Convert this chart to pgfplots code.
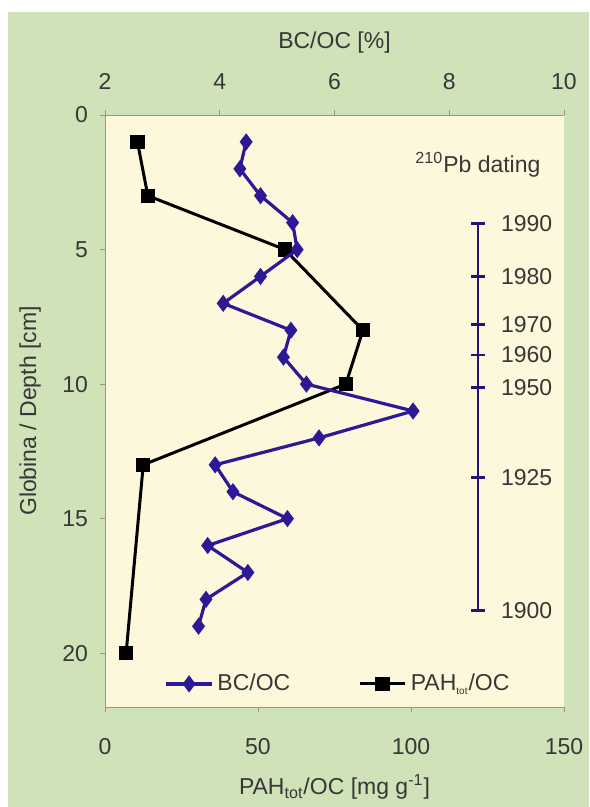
\documentclass[border=0pt]{standalone}
\usepackage{pgfplots}
\pgfplotsset{compat=1.18}
\usepackage{fontspec}
\setmainfont{Liberation Sans}

\definecolor{bggreen}{RGB}{207,226,184}
\definecolor{cream}{RGB}{253,247,219}
\definecolor{bcblue}{RGB}{45,25,150}
\definecolor{txtgray}{RGB}{55,55,55}
\definecolor{axgray}{RGB}{150,150,130}

\begin{document}
\fontsize{11.5}{13}\selectfont
\begin{tikzpicture}[x=0.5pt,y=0.5pt]
% white frame and green panel (589 x 807 px grid)
\useasboundingbox (0,0) rectangle (589,807);
\fill[white] (0,0) rectangle (589,807);
\fill[bggreen] (8,0) rectangle (589,795);

\pgfplotsset{
  common/.style={
    at={(52.5pt,50pt)}, anchor=south west,
    scale only axis, width=229.5pt, height=296pt,
    ymin=0, ymax=22, y dir=reverse,
    tick align=outside, major tick length=2.5pt,
    tick style={axgray, thin},
    axis line style={axgray, thin},
    /pgf/number format/assume math mode=true,
    tick label style={text=txtgray, font=\fontsize{11.5}{13}\selectfont},
    label style={text=txtgray, font=\fontsize{11.5}{13}\selectfont},
  }
}

% PAH on the bottom axis, depth on the left
\begin{axis}[common,
    axis background/.style={fill=cream},
    axis x line*=bottom, axis y line*=left,
    xmin=0, xmax=150,
    xtick={0,50,100,150}, ytick={0,5,10,15,20},
    xticklabel style={yshift=-9pt},
    yticklabel style={xshift=-2pt},
    xlabel={PAH\textsubscript{tot}/OC [mg g\textsuperscript{-1}]},
    xlabel style={at={(axis description cs:0.5,-0.135)}, anchor=center},
    ylabel={Globina / Depth [cm]},
    ylabel style={at={(axis description cs:-0.163,0.5)}, anchor=center},
]
\addplot[black, line width=1.5pt, mark=square*, mark size=2.8pt] coordinates {
  (10.6,1) (14.0,3) (58.8,5) (84.3,8) (78.7,10) (12.5,13) (6.9,20)
};
\end{axis}

% BC/OC on the top axis, plus the 210Pb dating scale
\begin{axis}[common,
    axis x line*=top, axis y line=none,
    xmin=2, xmax=10,
    xtick={2,4,6,8,10},
    xticklabel style={yshift=6pt},
    xlabel={BC/OC [\%]},
    xlabel style={at={(axis description cs:0.5,1.122)}, anchor=center},
    legend columns=2,
    legend style={at={(0.51,0.039)}, anchor=center, draw=none, fill=none,
      text=txtgray, font=\fontsize{11.5}{13}\selectfont,
      /tikz/every even column/.append style={column sep=32pt}},
    legend image code/.code={
      \draw[mark repeat=2, mark phase=2] plot coordinates {(0cm,0cm) (0.4cm,0cm) (0.8cm,0cm)};
    },
]
\addplot[bcblue, line width=1.6pt, mark=diamond*, mark size=3pt] coordinates {
  (4.46,1) (4.35,2) (4.71,3) (5.27,4) (5.35,5) (4.71,6) (4.06,7)
  (5.24,8) (5.11,9) (5.51,10) (7.37,11) (5.73,12) (3.92,13) (4.23,14)
  (5.18,15) (3.79,16) (4.49,17) (3.76,18) (3.63,19)
};
\addlegendentry{BC/OC}
\addlegendimage{black, line width=1.5pt, mark=square*, mark size=2.8pt}
\addlegendentry{PAH\textsubscript{\tiny tot}/OC}

% dating scale
\addplot[bcblue!80!black, line width=1.2pt, mark=-, mark size=3.5pt,
    mark options={line width=1.4pt},
    point meta=explicit symbolic, nodes near coords,
    nodes near coords align={anchor=west},
    every node near coord/.append style={xshift=7pt, text=txtgray,
      font=\fontsize{11.5}{13}\selectfont},
    forget plot] coordinates {
  (8.5,4.03) [1990]
  (8.5,6.01) [1980]
  (8.5,7.78) [1970]
  (8.5,8.92) [1960]
  (8.5,10.14) [1950]
  (8.5,13.48) [1925]
  (8.5,18.4) [1900]
};
\node[text=txtgray] at (axis cs:8.5,1.85) {\textsuperscript{210}Pb dating};
\end{axis}
\end{tikzpicture}
\end{document}
